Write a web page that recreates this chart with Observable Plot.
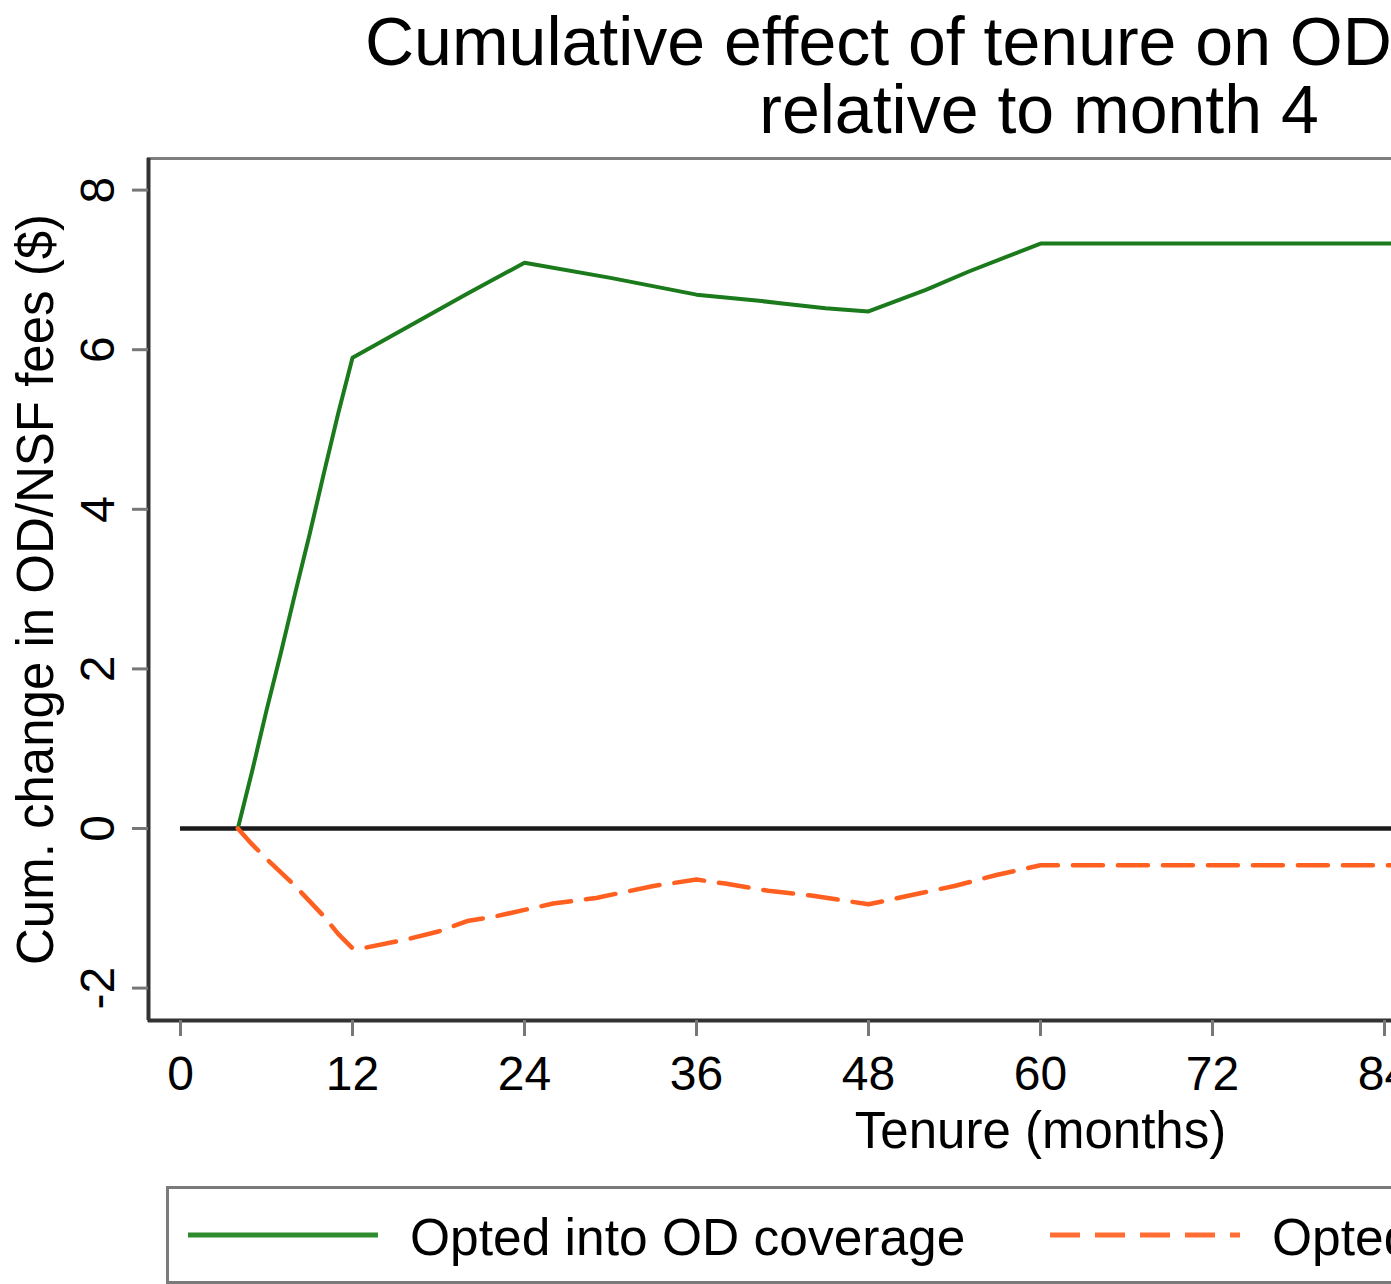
<!DOCTYPE html>
<html>
<head>
<meta charset="utf-8">
<script src="https://cdn.jsdelivr.net/npm/d3@7"></script>
<script src="https://cdn.jsdelivr.net/npm/@observablehq/plot@0.6"></script>
<style>
  html, body { margin: 0; padding: 0; background: #fff; overflow: hidden; }
  #wrap { position: relative; width: 1970px; height: 1284px; font-family: "Liberation Sans", Arial, Helvetica, sans-serif; }
  #title { position: absolute; left: 0; top: 0; }
  #chart { position: absolute; left: 0; top: 150px; }
  #legend { position: absolute; left: 166px; top: 1186px; }
</style>
</head>
<body>
<div id="wrap">
  <svg id="title" width="1970" height="150"></svg>
  <div id="chart"></div>
  <svg id="legend" width="1748" height="98"></svg>
</div>
<script>
// ---- data ----
const titleLines = ["Cumulative effect of tenure on OD/NSF fees", "relative to month 4"];
const yLabel = "Cum. change in OD/NSF fees ($)";
const xLabel = "Tenure (months)";
const seriesNames = ["Opted into OD coverage", "Opted out of OD coverage"];

const xTicks = [0, 12, 24, 36, 48, 60, 72, 84, 96, 108, 120];
const yTicks = [-2, 0, 2, 4, 6, 8];
const xDomain = [-2.233, 122.233];
const yDomain = [-2.406, 8.396];

const optInMonths = [4, 5, 6, 7, 8, 9, 10, 11, 12, 15, 17, 20, 24, 30, 36, 40, 42, 45, 48, 52, 55, 60, 120];
const optInValues = [0, 0.72, 1.48, 2.2, 2.95, 3.68, 4.45, 5.2, 5.9, 6.2, 6.4, 6.7, 7.09, 6.9, 6.69, 6.62, 6.58, 6.52, 6.48, 6.75, 6.98, 7.33, 7.33];

const optOutMonths = [4, 5, 6, 8, 10, 11, 12, 13, 16, 18, 20, 22, 24, 26, 29, 33, 36, 38, 41, 44, 48, 54, 57, 60, 120];
const optOutValues = [0, -0.2, -0.38, -0.72, -1.1, -1.32, -1.5, -1.49, -1.38, -1.29, -1.16, -1.1, -1.02, -0.94, -0.87, -0.72, -0.64, -0.69, -0.78, -0.84, -0.95, -0.72, -0.58, -0.46, -0.46];

const colors = ["#1b7a1b", "#ff5f1f"];
const legendColors = ["#2e8b2e", "#ff6d33"];

// ---- build tables ----
const optIn = optInMonths.map((m, i) => ({month: m, value: optInValues[i]}));
const optOut = optOutMonths.map((m, i) => ({month: m, value: optOutValues[i]}));

const font = '"Liberation Sans", Arial, Helvetica, sans-serif';

const chart = Plot.plot({
  width: 1970,
  height: 1020,
  marginTop: 8,
  marginBottom: 150,
  marginLeft: 148,
  marginRight: 38,
  x: {domain: xDomain},
  y: {domain: yDomain},
  style: {fontFamily: font, background: "white", color: "black", overflow: "visible"},
  marks: [
    Plot.frame({stroke: "#7f7f7f", strokeWidth: 3}),
    Plot.ruleY([0], {x1: xTicks[0], x2: xTicks[xTicks.length - 1], stroke: "#1a1a1a", strokeWidth: 4.5}),
    Plot.line(optIn, {x: "month", y: "value", stroke: colors[0], strokeWidth: 4, strokeLinejoin: "round"}),
    Plot.line(optOut, {x: "month", y: "value", stroke: colors[1], strokeWidth: 4.5, strokeDasharray: "30,15", strokeLinejoin: "round"}),
    Plot.ruleX([xDomain[0]], {stroke: "#333", strokeWidth: 4}),
    Plot.ruleY([yDomain[0]], {stroke: "#333", strokeWidth: 4}),
    Plot.axisX({ticks: xTicks, tickSize: 16, tickPadding: 19, fontSize: 48, stroke: "#777", strokeWidth: 3, tickFormat: d => String(d), label: null}),
    Plot.axisY({ticks: yTicks, tickSize: 16, tickPadding: 0, stroke: "#777", strokeWidth: 3, tickFormat: () => "", label: null}),
    Plot.text(yTicks, {x: xDomain[0], y: d => d, text: d => String(d), rotate: -90, textAnchor: "middle", lineAnchor: "bottom", dx: -35, fontSize: 48, fill: "black"}),
    Plot.text([yLabel], {frameAnchor: "left", text: d => d, rotate: -90, textAnchor: "middle", lineAnchor: "bottom", dx: -96, fontSize: 51, fill: "black"}),
    Plot.text([xLabel], {frameAnchor: "bottom", text: d => d, textAnchor: "middle", lineAnchor: "bottom", dy: 127, fontSize: 51, fill: "black"})
  ]
});
document.getElementById("chart").appendChild(chart);

// ---- title ----
const tsvg = d3.select("#title");
tsvg.append("text").attr("x", 365).attr("y", 65).attr("font-size", 68).attr("font-family", font).attr("fill", "black").text(titleLines[0]);
tsvg.append("text").attr("x", 1039).attr("y", 133).attr("text-anchor", "middle").attr("font-size", 68).attr("font-family", font).attr("fill", "black").text(titleLines[1]);

// ---- legend ----
const lsvg = d3.select("#legend");
lsvg.append("rect").attr("x", 1.5).attr("y", 1.5).attr("width", 1745).attr("height", 95).attr("fill", "white").attr("stroke", "#7a7a7a").attr("stroke-width", 3);
const items = [
  {x0: 22, x1: 212, tx: 244, dash: null},
  {x0: 884, x1: 1074, tx: 1106, dash: "30,15"}
];
items.forEach((it, i) => {
  lsvg.append("line").attr("x1", it.x0).attr("x2", it.x1).attr("y1", 49).attr("y2", 49)
    .attr("stroke", legendColors[i]).attr("stroke-width", 5).attr("stroke-dasharray", it.dash);
  lsvg.append("text").attr("x", it.tx).attr("y", 69).attr("font-size", 51.5).attr("font-family", font).attr("fill", "black").text(seriesNames[i]);
});
</script>
</body>
</html>
